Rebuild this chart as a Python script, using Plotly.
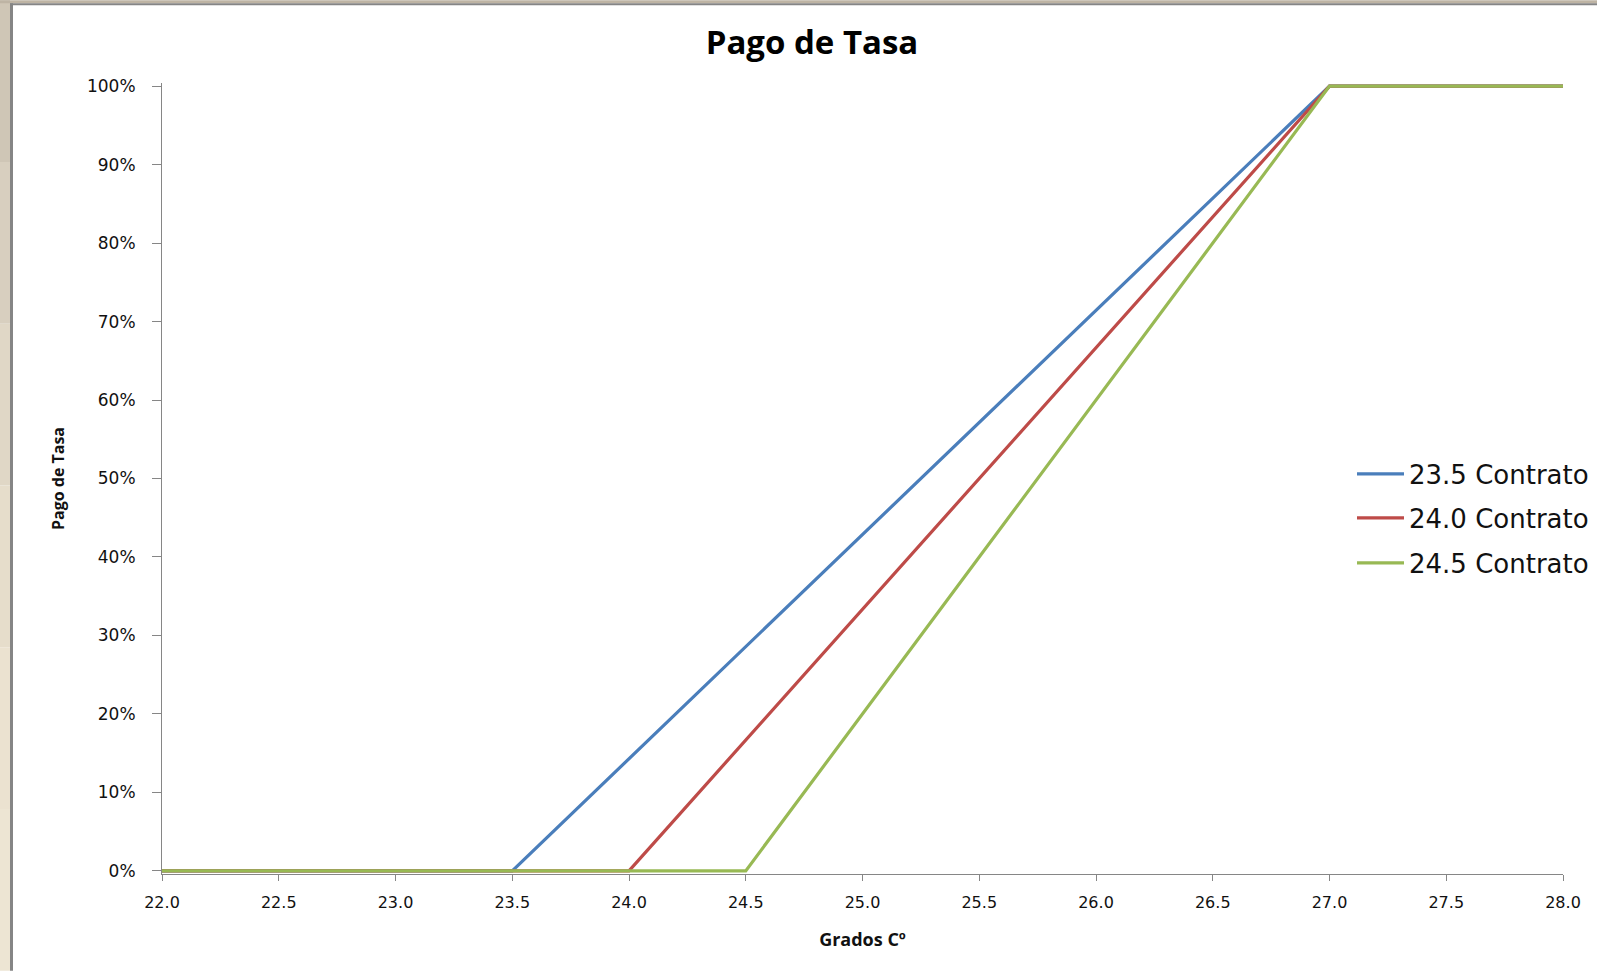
import plotly.graph_objects as go

# ---- data ----
temps_235 = [22.0, 23.5, 27.0, 28.0]
pago_235 = [0.0, 0.0, 1.0, 1.0]
temps_240 = [22.0, 24.0, 27.0, 28.0]
pago_240 = [0.0, 0.0, 1.0, 1.0]
temps_245 = [22.0, 24.5, 27.0, 28.0]
pago_245 = [0.0, 0.0, 1.0, 1.0]
series_names = ["23.5 Contrato", "24.0 Contrato", "24.5 Contrato"]
x_ticks = [22.0, 22.5, 23.0, 23.5, 24.0, 24.5, 25.0, 25.5, 26.0, 26.5, 27.0, 27.5, 28.0]
y_ticks = [0, 0.1, 0.2, 0.3, 0.4, 0.5, 0.6, 0.7, 0.8, 0.9, 1.0]

# ---- layout geometry (pixels) ----
W, H = 1597, 971
L, R = 162, 1563
y0_px, y1_px = 871, 86  # 0% and 100%
pad = 0.004
unit = (y0_px - y1_px)
top_px = y1_px - pad * unit
bot_px = y0_px + pad * unit
PW = R - L
PH = bot_px - top_px

def px_x(p):
    return (p - L) / PW

def px_y(p):
    return (bot_px - p) / PH

colors = ["#4A7EBB", "#BE4B48", "#98B954"]

fig = go.Figure()
data = [(temps_235, pago_235), (temps_240, pago_240), (temps_245, pago_245)]
legends = ["legend", "legend2", "legend3"]
for i, ((xs, ys), name) in enumerate(zip(data, series_names)):
    fig.add_trace(go.Scatter(
        x=xs, y=ys, mode="lines", name=name,
        line=dict(color=colors[i], width=3.2),
        legend=legends[i], showlegend=True,
    ))

leg_font = dict(family="DejaVu Sans", size=26, color="#111111")
leg_y = [474, 518, 563]
leg_common = dict(x=px_x(1352), xanchor="left", yanchor="middle", itemwidth=47,
                  bgcolor="rgba(0,0,0,0)", font=leg_font, borderwidth=0, visible=True)

shapes = []
# beige outer strips
grad = ["#CFC6B6", "#D8CFBF", "#E0D7C6", "#E6DDCB", "#EBE2D0", "#EDE5D3"]
n = len(grad)
for k, c in enumerate(grad):
    ya = H * k / n
    yb = H * (k + 1) / n
    shapes.append(dict(type="rect", xref="paper", yref="paper",
                       x0=px_x(0), x1=px_x(10), y0=px_y(yb), y1=px_y(ya),
                       fillcolor=c, line=dict(width=0), layer="above"))
shapes.append(dict(type="rect", xref="paper", yref="paper",
                   x0=px_x(0), x1=px_x(W), y0=px_y(3), y1=px_y(0),
                   fillcolor="#BEB4A4", line=dict(width=0), layer="above"))
# gray frame lines
shapes.append(dict(type="rect", xref="paper", yref="paper",
                   x0=px_x(10), x1=px_x(13), y0=px_y(H), y1=px_y(3),
                   fillcolor="#858585", line=dict(width=0), layer="above"))
shapes.append(dict(type="rect", xref="paper", yref="paper",
                   x0=px_x(10), x1=px_x(W), y0=px_y(5), y1=px_y(3),
                   fillcolor="#858585", line=dict(width=0), layer="above"))

fig.update_layout(
    width=W, height=H,
    showlegend=True,
    margin=dict(l=L, r=W - R, t=top_px, b=H - bot_px, autoexpand=False),
    paper_bgcolor="white", plot_bgcolor="white",
    title=dict(text="<b>Pago de Tasa</b>", x=812 / W, xref="container", xanchor="center",
               y=1 - 42 / H, yref="container", yanchor="middle",
               font=dict(family="Open Sans", size=33, color="#000000")),
    xaxis=dict(range=[22, 28], tickvals=x_ticks, ticktext=[f"{v:.1f}" for v in x_ticks],
               showgrid=False, zeroline=False, showline=True, linecolor="#868686", linewidth=1,
               ticks="outside", ticklen=6, tickcolor="#868686", tickwidth=1,
               tickfont=dict(family="DejaVu Sans", size=16, color="#111111"),
               ticklabelstandoff=8,
               title=dict(text="<b>Grados Cº</b>", standoff=22,
                          font=dict(family="Open Sans", size=18, color="#111111"))),
    yaxis=dict(range=[-pad, 1 + pad], tickvals=y_ticks, tickformat=".0%",
               showgrid=False, zeroline=False, showline=True, linecolor="#868686", linewidth=1,
               ticks="outside", ticklen=9, tickcolor="#868686", tickwidth=1,
               tickfont=dict(family="DejaVu Sans", size=17, color="#111111"),
               ticklabelstandoff=13,
               title=dict(text="<b>Pago de Tasa</b>", standoff=18,
                          font=dict(family="Open Sans", size=16, color="#111111"))),
    legend=dict(y=px_y(leg_y[0]), **leg_common),
    legend2=dict(y=px_y(leg_y[1]), **leg_common),
    legend3=dict(y=px_y(leg_y[2]), **leg_common),
    shapes=shapes,
)

fig.write_html("out.html", config={"displayModeBar": False},
               post_script="document.body.style.margin='0';document.body.style.padding='0';")
